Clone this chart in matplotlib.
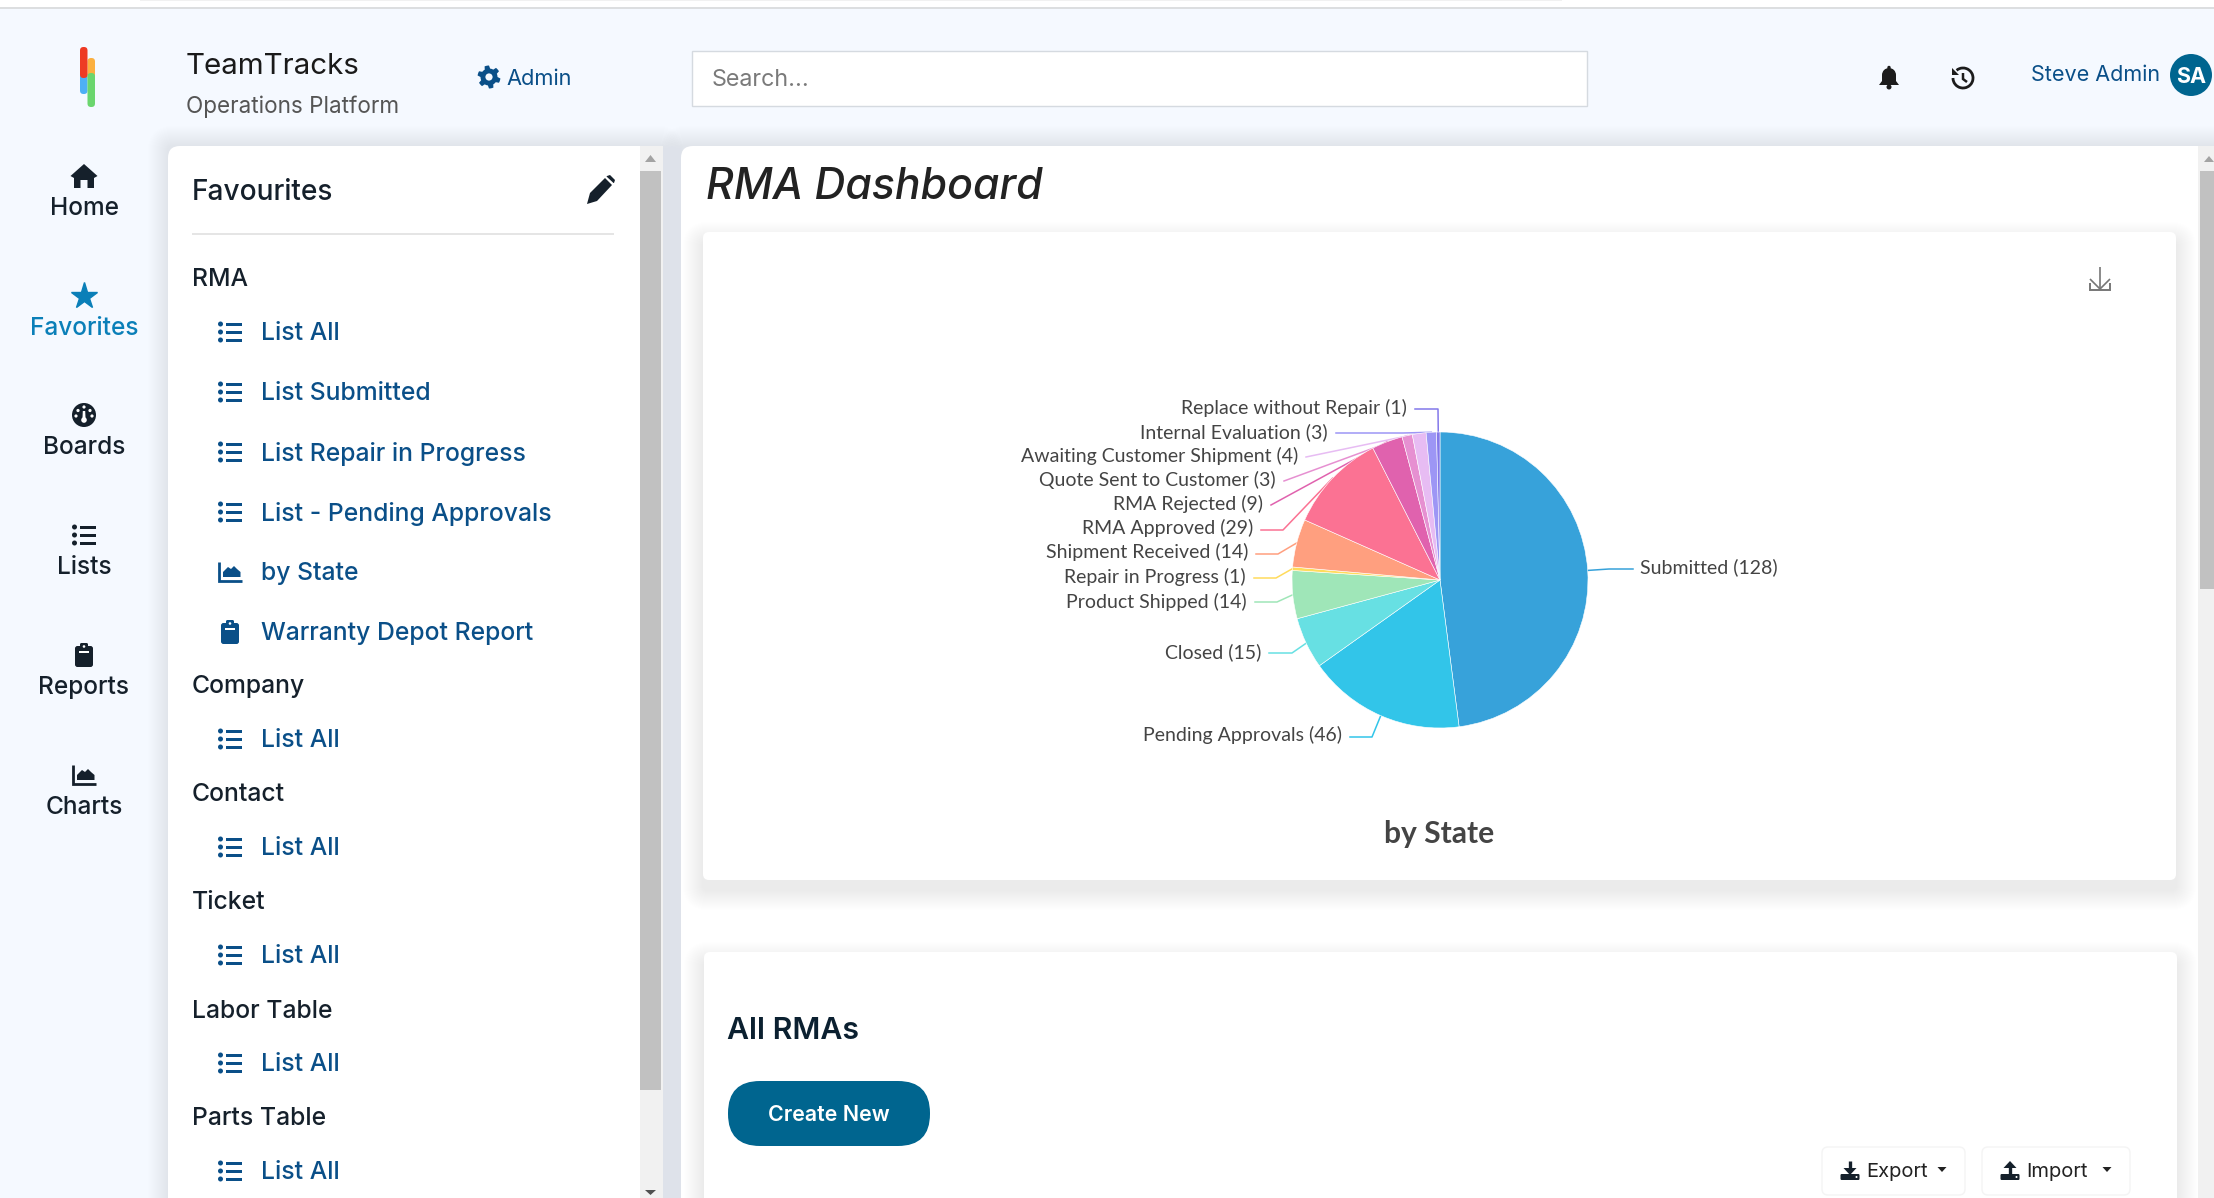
import numpy as np
import matplotlib
matplotlib.use("Agg")
import matplotlib.pyplot as plt
from matplotlib.patches import Rectangle, FancyBboxPatch, Circle, Polygon, Arc

# chart data
states = ["Submitted", "Pending Approvals", "Closed", "Product Shipped", "Repair in Progress",
          "Shipment Received", "RMA Approved", "RMA Rejected", "Quote Sent to Customer",
          "Awaiting Customer Shipment", "Internal Evaluation", "Replace without Repair"]
counts = [128, 46, 15, 14, 1, 14, 29, 9, 3, 4, 3, 1]
colors = ["#37A2DA", "#32C5E9", "#67E0E3", "#9FE6B8", "#FFDB5C", "#ff9f7f",
          "#fb7293", "#E062AE", "#E690D1", "#e7bcf3", "#9d96f5", "#8378EA"]

# page text
nav_labels = ["Home", "Favorites", "Boards", "Lists", "Reports", "Charts"]
menu_rows = [("head", "RMA"), ("list", "List All"), ("list", "List Submitted"),
             ("list", "List Repair in Progress"), ("list", "List - Pending Approvals"),
             ("chart", "by State"), ("clip", "Warranty Depot Report"),
             ("head", "Company"), ("list", "List All"), ("head", "Contact"), ("list", "List All"),
             ("head", "Ticket"), ("list", "List All"), ("head", "Labor Table"), ("list", "List All"),
             ("head", "Parts Table"), ("list", "List All")]

# layout, pixels
menu_y = [278, 332, 392, 452, 512, 572, 632, 685, 739, 793, 847, 901, 955, 1010, 1063, 1117, 1171]
nav_y = [176, 296, 415, 535, 655, 775]
label_y = [567, 735, 652, 602, 577, 552, 528, 504, 480, 456, 432, 408]
line_y = [569, 737, 653, 602, 578, 554, 530, 505, 481, 457, 433, 409]
line_start_x = [1633, 1350, 1269, 1255, 1254, 1256, 1261, 1271, 1284, 1306, 1336, 1415]
line_elbow_x = [1609, 1372, 1292, 1277, 1276, 1278, 1283, 1271, 1284, 1306, 1403, 1438]
PIE_X, PIE_Y, PIE_R = 1440, 580, 148

BG = "#f5f9ff"
LINK = "#0a4f88"
DARK = "#15202b"
TEAL = "#00658f"
UI = ["Inter", "DejaVu Sans"]
LABEL = ["Lato", "DejaVu Sans"]

fig = plt.figure(figsize=(22.14, 11.98), dpi=100, facecolor="white")
ax = fig.add_axes([0, 0, 1, 1])
ax.set_xlim(0, 2214)
ax.set_ylim(1198, 0)
ax.axis("off")


def box(x0, y0, x1, y1, color, z=1, **kw):
    ax.add_patch(Rectangle((x0, y0), x1 - x0, y1 - y0, fc=color, ec="none", zorder=z, **kw))


def round_box(x0, y0, x1, y1, r, fc, ec="none", z=2, lw=1, alpha=None):
    ax.add_patch(FancyBboxPatch((x0 + r, y0 + r), x1 - x0 - 2 * r, y1 - y0 - 2 * r,
                                boxstyle=f"round,pad={r},rounding_size={r}",
                                fc=fc, ec=ec, lw=lw, zorder=z, alpha=alpha))


def shadow(x0, y0, x1, y1, color, size=20, strength=0.01, z=1.5, drop=0):
    for i in range(size, 0, -1):
        round_box(x0 - i, y0 - i + drop, x1 + i, y1 + i + drop, 6 + i, color, z=z, alpha=strength)


def txt(x, y, s, size, color=DARK, ha="left", weight="normal", style="normal", fam=UI, z=6):
    ax.text(x, y, s, fontsize=size, color=color, ha=ha, va="center_baseline", fontweight=weight,
            fontstyle=style, family=fam, zorder=z)


def poly(pts, color, z=6, **kw):
    ax.add_patch(Polygon(pts, closed=True, fc=color, ec="none", zorder=z, **kw))


def stroke(xs, ys, color, lw=2.0, z=6):
    ax.plot(xs, ys, color=color, lw=lw, zorder=z, solid_capstyle="butt", solid_joinstyle="miter")


def icon_list(cx, cy, color):
    for dy in (-8, 0, 8):
        ax.add_patch(Circle((cx - 9.5, cy + dy), 2.5, fc=color, ec="none", zorder=6))
        box(cx - 4.5, cy + dy - 1.5, cx + 12, cy + dy + 1.5, color, z=6)


def icon_chart(cx, cy, color):
    stroke([cx - 11, cx - 11, cx + 12], [cy - 10, cy + 9, cy + 9], color, lw=2.0)
    poly([(cx - 7, cy + 5), (cx - 7, cy), (cx - 2, cy - 5), (cx + 1, cy - 3), (cx + 4, cy - 6),
          (cx + 7, cy - 3), (cx + 10.5, cy), (cx + 10.5, cy + 5)], color)


def icon_clip(cx, cy, color):
    round_box(cx - 9, cy - 9, cx + 9, cy + 12, 2.5, color, z=6)
    round_box(cx - 4, cy - 12, cx + 4, cy - 6, 1.5, color, z=6)
    box(cx - 5, cy - 4, cx + 5, cy - 2.5, "white", z=7)
    ax.add_patch(Circle((cx, cy - 8.5), 1.3, fc="white", ec="none", zorder=7))


def icon_home(cx, cy, color):
    poly([(cx - 13.5, cy), (cx, cy - 12), (cx + 13.5, cy), (cx + 10, cy + 2), (cx + 10, cy + 12),
          (cx + 3.5, cy + 12), (cx + 3.5, cy + 4), (cx - 3.5, cy + 4), (cx - 3.5, cy + 12),
          (cx - 10, cy + 12), (cx - 10, cy + 2)], color)


def icon_dial(cx, cy, color):
    ax.add_patch(Circle((cx, cy), 12, fc=color, ec="none", zorder=6))
    for dx, dy in ((0, -8), (-6, -4.5), (6, -4.5), (-8, 1), (8, 1)):
        ax.add_patch(Circle((cx + dx, cy + dy), 1.6, fc="white", ec="none", zorder=7))
    poly([(cx - 1.2, cy - 4), (cx + 1.2, cy - 4), (cx + 1.6, cy + 5), (cx - 1.6, cy + 5)], "white", z=7)
    ax.add_patch(Circle((cx, cy + 5), 2.8, fc="white", ec="none", zorder=7))


def icon_gear(cx, cy, color):
    ang = np.linspace(0, 2 * np.pi, 49)[:-1] + np.pi / 24
    rad = np.where((np.arange(48) % 8) < 4, 11.5, 8.5)
    poly(np.c_[cx + rad * np.cos(ang), cy + rad * np.sin(ang)], color)
    ax.add_patch(Circle((cx, cy), 3.6, fc=BG, ec="none", zorder=7))


def icon_pencil(cx, cy, color):
    poly([(cx - 14, cy + 14), (cx - 11, cy + 3), (cx + 4, cy - 12), (cx + 11, cy - 5),
          (cx - 4, cy + 11)], color)
    poly([(cx + 6, cy - 14), (cx + 9, cy - 15), (cx + 14, cy - 10), (cx + 13, cy - 7),
          (cx + 12.5, cy - 7), (cx + 5.5, cy - 13.5)], color)


def icon_bell(cx, cy, color):
    ax.add_patch(Circle((cx, cy - 3), 7, fc=color, ec="none", zorder=6))
    poly([(cx - 7, cy - 3), (cx + 7, cy - 3), (cx + 7, cy + 3), (cx + 10, cy + 7), (cx - 10, cy + 7),
          (cx - 7, cy + 3)], color)
    ax.add_patch(Circle((cx, cy + 9), 2.5, fc=color, ec="none", zorder=6))
    ax.add_patch(Circle((cx, cy - 10.5), 1.7, fc=color, ec="none", zorder=6))


def icon_history(cx, cy, color):
    ax.add_patch(Arc((cx, cy), 20, 20, theta1=-130, theta2=180, ec=color, lw=2, zorder=6))
    poly([(cx - 11, cy - 10), (cx - 11, cy - 3), (cx - 4, cy - 3)], color)
    stroke([cx, cx, cx + 4], [cy - 5, cy + 1, cy + 4], color, lw=1.8)


def icon_tray(cx, cy, up):
    round_box(cx - 9.5, cy + 3, cx + 9.5, cy + 9, 1.2, DARK, z=6)
    if up:
        stroke([cx, cx], [cy - 7, cy + 4], DARK, lw=2.4)
        poly([(cx, cy - 10), (cx - 6.5, cy - 3), (cx + 6.5, cy - 3)], DARK)
    else:
        stroke([cx, cx], [cy - 10, cy - 1], DARK, lw=2.4)
        poly([(cx, cy + 4), (cx - 6.5, cy - 3), (cx + 6.5, cy - 3)], DARK)
    ax.add_patch(Circle((cx + 6.5, cy + 6), 1, fc="white", ec="none", zorder=7))


# page background and top strip
box(0, 8, 2214, 1198, BG, z=0)
box(0, 7, 2214, 9, "#dcdee0", z=0.5)
box(140, 0, 1562, 1, "#f1f1f1", z=0.5)

# favourites panel
shadow(168, 146, 663, 1230, "#8fbdea", strength=0.007)
round_box(168, 146, 663, 1240, 12, "white")
box(640, 146, 663, 1198, "#f1f1f1", z=3)
box(640, 171, 661, 1090, "#c1c1c1", z=4)
poly([(650.5, 155), (645, 162), (656, 162)], "#a3a3a3")
poly([(650.5, 1195), (645, 1190), (656, 1190)], "#505050")

# dashboard panel
shadow(681, 146, 2240, 1240, "#8fbdea", strength=0.007)
round_box(681, 146, 2260, 1240, 12, "white")
box(2198, 146, 2214, 1198, "#f1f1f1", z=3)
box(2200, 171, 2214, 589, "#c1c1c1", z=4)
poly([(2209, 156), (2204, 162), (2214, 162)], "#a3a3a3")

# cards
shadow(703, 232, 2176, 880, "#808080", strength=0.006, z=2.2, drop=10)
round_box(703, 232, 2176, 880, 6, "white", z=2.5)
shadow(704, 952, 2177, 1260, "#808080", strength=0.006, z=2.2, drop=10)
round_box(704, 952, 2177, 1260, 6, "white", z=2.5)

# logo
round_box(80, 47, 87.5, 78, 3.5, "#ee3a24", z=6)
round_box(80, 72, 87.5, 94, 3.5, "#4eb0f5", z=5.5)
round_box(87.5, 58, 95, 80, 3.5, "#fbb040", z=5.5)
round_box(87.5, 73, 95, 107, 3.5, "#6bd66e", z=6)

# header
txt(186, 63, "TeamTracks", 21.3, color="#1a1a1a")
txt(186, 104, "Operations Platform", 16.2, color="#555555")
icon_gear(489, 77, LINK)
txt(506, 77, "Admin", 15.7, color=LINK)
ax.add_patch(Rectangle((692, 51), 895, 55, fc="white", ec="#d5dae0", lw=1, zorder=3))
txt(712, 78, "Search...", 16.8, color="#7a7a7a")
icon_bell(1889, 78, "#1c1c1c")
icon_history(1963, 78, "#1c1c1c")
txt(2031, 73, "Steve Admin", 15.5, color=LINK)
ax.add_patch(Circle((2191, 75), 21, fc=TEAL, ec="none", zorder=6))
txt(2191, 75, "SA", 15.5, color="white", ha="center", weight="bold", z=7)

# sidebar nav
for name, y in zip(nav_labels, nav_y):
    col = "#0a7fb8" if name == "Favorites" else DARK
    if name == "Home":
        icon_home(84, y, col)
    elif name == "Favorites":
        ax.plot([84], [y], marker="*", ms=20, color=col, mec=col, zorder=6)
    elif name == "Boards":
        icon_dial(84, y, col)
    elif name == "Lists":
        icon_list(84, y, col)
    elif name == "Reports":
        icon_clip(84, y, col)
    elif name == "Charts":
        icon_chart(84, y, col)
    txt(84, y + 30, name, 17.6, color=col, ha="center", weight="medium")

# favourites list
txt(192, 190, "Favourites", 20.2, weight="medium")
icon_pencil(601, 190, DARK)
stroke([192, 614], [234, 234], "#e3e3e3", lw=1.3, z=4)
for (kind, name), y in zip(menu_rows, menu_y):
    if kind == "head":
        txt(192, y - 1, name, 17.8, color=DARK, weight="medium")
    else:
        {"list": icon_list, "chart": icon_chart, "clip": icon_clip}[kind](230, y, LINK)
        txt(261, y - 1, name, 17.8, color=LINK, weight="medium")

# title and card text
txt(706, 183, "RMA Dashboard", 30.8, color="#222222", style="italic", weight="medium")
txt(1439, 831, "by State", 21.6, color="#444444", ha="center", weight="bold", fam=LABEL)
txt(727, 1028, "All RMAs", 21.8, color="#0b2030", weight="semibold")

# download icon on the card
stroke([2100, 2100], [267, 288], "#777777", lw=1.2)
stroke([2090, 2100, 2110], [279, 289, 279], "#777777", lw=1.2)
stroke([2090, 2090, 2110, 2110], [283, 290, 290, 283], "#777777", lw=1.4)

# buttons
round_box(728, 1081, 930, 1146, 32, TEAL, z=3)
txt(829, 1113, "Create New", 15.4, color="white", ha="center", weight="semibold")
round_box(1822, 1147, 1965, 1195, 6, "white", ec="#f4f4f4", z=3)
round_box(1982, 1147, 2130, 1195, 6, "white", ec="#f4f4f4", z=3)
icon_tray(1850, 1171, False)
txt(1866, 1170, "Export", 14.5, color="#222222")
poly([(1937.5, 1167), (1946.5, 1167), (1942, 1172)], "#222222")
icon_tray(2010, 1171, True)
txt(2026, 1170, "Import", 14.5, color="#222222")
poly([(2102.5, 1167), (2111.5, 1167), (2107, 1172)], "#222222")

# pie, in its own axes centred on the card
pie_ax = fig.add_axes([(PIE_X - 1.25 * PIE_R) / 2214, 1 - (PIE_Y + 1.25 * PIE_R) / 1198,
                       2.5 * PIE_R / 2214, 2.5 * PIE_R / 1198])
wedges, _ = pie_ax.pie(counts, colors=colors, startangle=90, counterclock=False, radius=1,
                       wedgeprops={"edgecolor": "white", "linewidth": 0.4})

# leader lines and labels
for i, w in enumerate(wedges):
    mid = np.deg2rad((w.theta1 + w.theta2) / 2)
    ax_x = PIE_X + PIE_R * np.cos(mid)
    ax_y = PIE_Y - PIE_R * np.sin(mid)
    ax.plot([ax_x, line_elbow_x[i], line_start_x[i]], [ax_y, line_y[i], line_y[i]],
            color=colors[i], lw=1.1, zorder=5)
    text = f"{states[i]} ({counts[i]})"
    if i == 0:
        txt(line_start_x[i] + 7, label_y[i] - 1.5, text, 14, color="#444444", fam=LABEL)
    else:
        txt(line_start_x[i] - 8, label_y[i] - 1.5, text, 14, color="#444444", ha="right", fam=LABEL)

fig.savefig("out.png", dpi=100)
